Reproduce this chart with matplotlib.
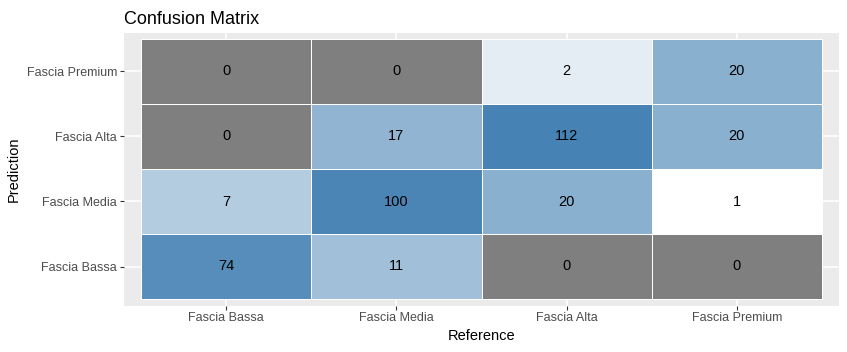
import numpy as np
import matplotlib.pyplot as plt
from matplotlib.colors import LinearSegmentedColormap, LogNorm

plt.rcParams['font.family'] = ['Liberation Sans', 'DejaVu Sans']

reference = ['Fascia Bassa', 'Fascia Media', 'Fascia Alta', 'Fascia Premium']
prediction = ['Fascia Bassa', 'Fascia Media', 'Fascia Alta', 'Fascia Premium']
# rows = prediction (bottom to top), cols = reference
counts = np.array([
    [74, 11, 0, 0],
    [7, 100, 20, 1],
    [0, 17, 112, 20],
    [0, 0, 2, 20],
])

W, H = 847, 352
fig = plt.figure(figsize=(W / 100, H / 100), dpi=100)
ax = fig.add_axes([124 / W, 1 - 305.5 / H, (839 - 124) / W, (305.5 - 32.5) / H])
ax.set_facecolor('#EBEBEB')

cmap = LinearSegmentedColormap.from_list('wb', ['#FFFFFF', '#4682B4'])
cmap.set_bad('#7F7F7F')
masked = np.ma.masked_where(counts == 0, counts)

xe = np.arange(len(reference) + 1) + 0.5
ye = np.arange(len(prediction) + 1) + 0.5
ax.pcolormesh(xe, ye, masked, cmap=cmap, norm=LogNorm(vmin=1, vmax=counts.max()),
              edgecolors='white', linewidth=0.7, zorder=2)

for i in range(counts.shape[0]):
    for j in range(counts.shape[1]):
        ax.text(j + 1, i + 1, str(counts[i, j]), ha='center', va='center',
                fontsize=10.5, color='black', zorder=3)

ax.set_xlim(0.4, len(reference) + 0.6)
ax.set_ylim(0.4, len(prediction) + 0.6)
ax.set_xticks(np.arange(1, len(reference) + 1))
ax.set_xticklabels(reference)
ax.set_yticks(np.arange(1, len(prediction) + 1))
ax.set_yticklabels(prediction)
ax.grid(True, color='white', linewidth=1.1, zorder=0)
ax.set_axisbelow(True)
for s in ax.spines.values():
    s.set_visible(False)
ax.tick_params(length=3, width=0.8, color='#333333', labelcolor='#4D4D4D',
               labelsize=9, pad=2)

ax.set_xlabel('Reference', fontsize=10.5, labelpad=3)
ax.set_ylabel('Prediction', fontsize=10.5, labelpad=4)
ax.set_title('Confusion Matrix', fontsize=13, loc='left', pad=6)

fig.savefig('out.png', dpi=100)
